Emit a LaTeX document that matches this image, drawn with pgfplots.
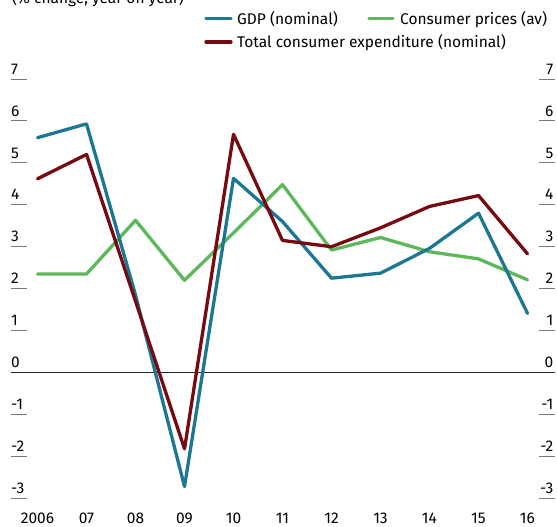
\documentclass[border=0pt]{standalone}
\usepackage{pgfplots}
\pgfplotsset{compat=1.18}
\usepackage{fontspec}
\setmainfont{Fira Sans}
\definecolor{gdpblue}{RGB}{28,120,146}
\definecolor{cpigreen}{RGB}{92,184,90}
\definecolor{tcered}{RGB}{118,10,16}
\definecolor{tickgray}{RGB}{120,120,120}
\begin{document}
\fontsize{15.5}{18}\selectfont
\begin{tikzpicture}[x=1pt,y=1pt]
\useasboundingbox (0,0) rectangle (557,527);
\clip (0,0) rectangle (557,527);
\begin{axis}[
  at={(11pt,28.7pt)}, anchor=south west,
  scale only axis, width=544pt, height=419.3pt,
  xmin=2005.459, xmax=2016.561, ymin=-3, ymax=7,
  axis line style={draw=none}, clip=false,
  xtick={2006,...,2016},
  xticklabels={2006,07,08,09,10,11,12,13,14,15,16},
  xticklabel style={anchor=base, inner sep=0pt, yshift=-25.5pt, font=\fontsize{15.5}{18}\selectfont},
  ytick=\empty,
  major tick length=0pt,
  /pgf/number format/assume math mode=true,
]
% tick segments and labels
\pgfplotsinvokeforeach{-3,-2,-1,0,1,2,3,4,5,6,7}{
  \draw[tickgray, line width=0.9pt] (axis cs:2005.459,#1) -- (axis cs:2005.79,#1);
  \draw[tickgray, line width=0.9pt] (axis cs:2016.235,#1) -- (axis cs:2016.561,#1);
  \node[anchor=base west, inner sep=0pt] at ([yshift=4.8pt]axis cs:2005.459,#1) {#1};
  \node[anchor=base east, inner sep=0pt] at ([yshift=4.8pt]axis cs:2016.53,#1) {#1};
}
\draw[black!85, line width=1.1pt] (axis cs:2005.459,0) -- (axis cs:2016.561,0);
\addplot[cpigreen, line width=3.3pt, line join=round, line cap=round] coordinates {
 (2006,2.35) (2007,2.35) (2008,3.63) (2009,2.2) (2010,3.33) (2011,4.48)
 (2012,2.92) (2013,3.22) (2014,2.88) (2015,2.71) (2016,2.21)};
\addplot[gdpblue, line width=3.3pt, line join=round, line cap=round] coordinates {
 (2006,5.6) (2007,5.93) (2008,1.85) (2009,-2.72) (2010,4.63) (2011,3.6)
 (2012,2.25) (2013,2.37) (2014,2.96) (2015,3.8) (2016,1.41)};
\addplot[tcered, line width=3.3pt, line join=round, line cap=round] coordinates {
 (2006,4.62) (2007,5.2) (2008,1.7) (2009,-1.82) (2010,5.68) (2011,3.15)
 (2012,3.0) (2013,3.45) (2014,3.96) (2015,4.22) (2016,2.83)};
\end{axis}
% title (cut off at the top as in the reference)
\node[anchor=base west, inner sep=0pt] at (12,523) {(\% change, year on year)};
% legend
\draw[gdpblue, line width=3.3pt, line cap=round] (206,508.5) -- (231,508.5);
\node[anchor=base west, inner sep=0pt] at (237,502) {GDP (nominal)};
\draw[cpigreen, line width=3.3pt, line cap=round] (369,508.5) -- (393,508.5);
\node[anchor=base west, inner sep=0pt] at (400,502) {Consumer prices (av)};
\draw[tcered, line width=3.3pt, line cap=round] (206,485) -- (231,485);
\node[anchor=base west, inner sep=0pt] at (237,479) {Total consumer expenditure (nominal)};
\end{tikzpicture}
\end{document}
